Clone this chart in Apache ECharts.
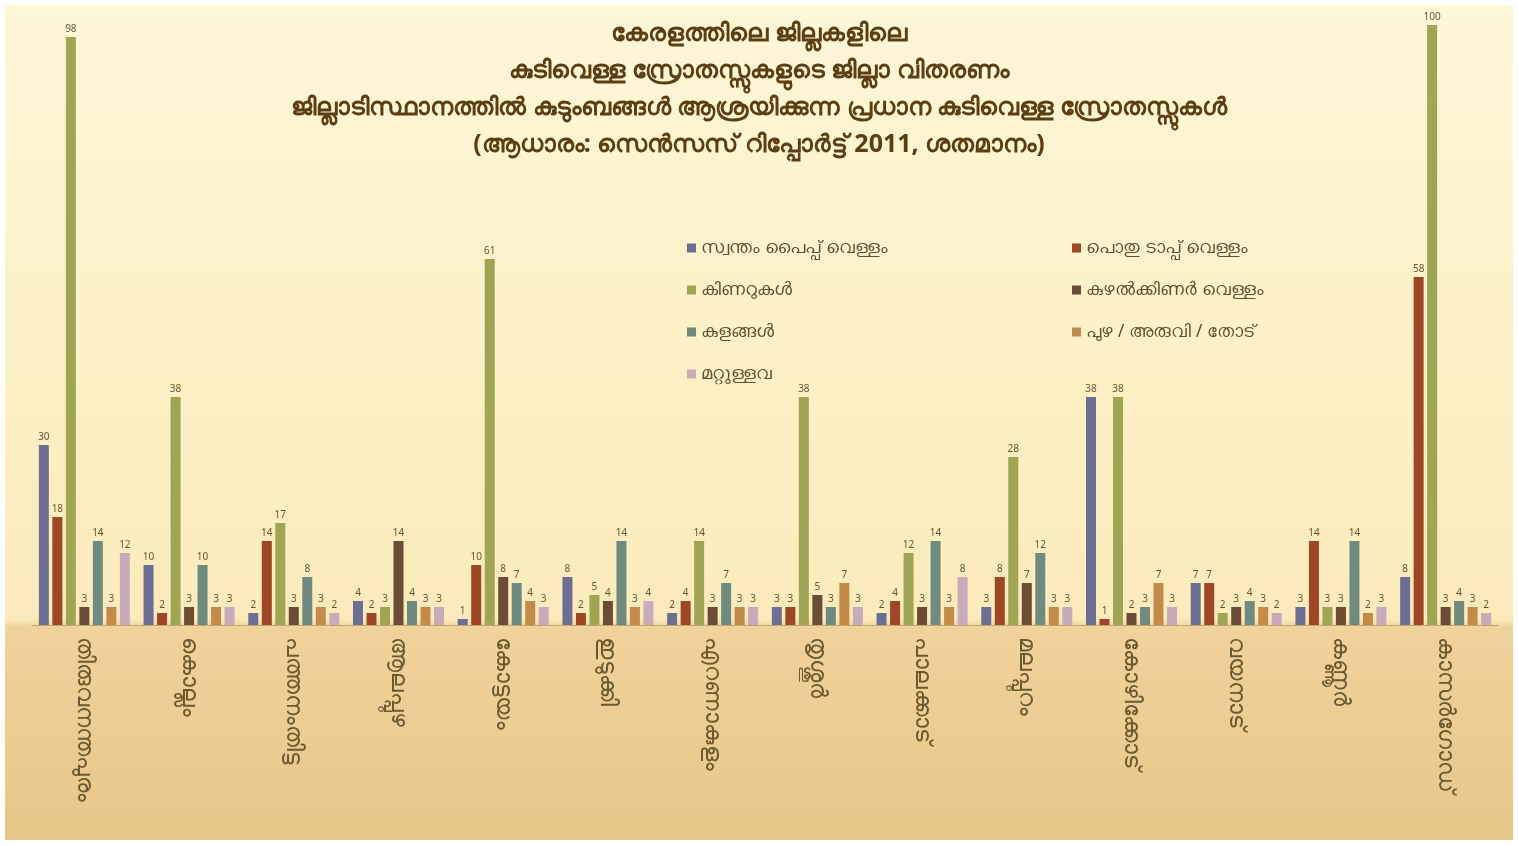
<!DOCTYPE html>
<html>
<head>
<meta charset="utf-8">
<script src="https://cdn.jsdelivr.net/npm/echarts@6/dist/echarts.min.js"></script>
<style>
html,body{margin:0;padding:0;background:#ffffff;}
#chart{width:1518px;height:846px;}
</style>
</head>
<body>
<div id="chart"></div>
<script>
// ---- data ----
const titleLines = [
  'കേരളത്തിലെ ജില്ലകളിലെ',
  'കുടിവെള്ള സ്രോതസ്സുകളുടെ ജില്ലാ വിതരണം',
  'ജില്ലാടിസ്ഥാനത്തിൽ കുടുംബങ്ങൾ ആശ്രയിക്കുന്ന പ്രധാന കുടിവെള്ള സ്രോതസ്സുകൾ',
  '(ആധാരം: സെൻസസ് റിപ്പോർട്ട് 2011, ശതമാനം)'
];
const categories = ['തിരുവനന്തപുരം','കൊല്ലം','പത്തനംതിട്ട','ആലപ്പുഴ','കോട്ടയം','ഇടുക്കി','എറണാകുളം','തൃശ്ശൂർ','പാലക്കാട്','മലപ്പുറം','കോഴിക്കോട്','വയനാട്','കണ്ണൂർ','കാസർഗോഡ്'];
const seriesNames = ['സ്വന്തം പൈപ്പ് വെള്ളം','പൊതു ടാപ്പ് വെള്ളം','കിണറുകൾ','കുഴൽക്കിണർ വെള്ളം','കുളങ്ങൾ','പുഴ / അരുവി / തോട്','മറ്റുള്ളവ'];
const s1 = [30, 10, 2, 4, 1, 8, 2, 3, 2, 3, 38, 7, 3, 8];
const s2 = [18, 2, 14, 2, 10, 2, 4, 3, 4, 8, 1, 7, 14, 58];
const s3 = [98, 38, 17, 3, 61, 5, 14, 38, 12, 28, 38, 2, 3, 100];
const s4 = [3, 3, 3, 14, 8, 4, 3, 5, 3, 7, 2, 3, 3, 3];
const s5 = [14, 10, 8, 4, 7, 14, 7, 3, 14, 12, 3, 4, 14, 4];
const s6 = [3, 3, 3, 3, 4, 3, 3, 7, 3, 3, 7, 3, 2, 3];
const s7 = [12, 3, 2, 3, 3, 4, 3, 3, 8, 3, 3, 2, 3, 2];
const seriesValues = [s1, s2, s3, s4, s5, s6, s7];
const colors = ['#6c6f92', '#9e4626', '#9fa552', '#6b4c34', '#6f8a7e', '#c48a4a', '#c9aab8'];

const FONT = "'Noto Sans', 'DejaVu Sans', sans-serif";
const chart = echarts.init(document.getElementById('chart'), null, {renderer: 'canvas'});

const series = seriesNames.map((name, i) => ({
  name: name,
  type: 'bar',
  data: seriesValues[i],
  barWidth: 10,
  barGap: '35%',
  itemStyle: {color: colors[i]},
  label: {show: true, position: 'top', distance: 3, fontSize: 10, color: '#6b5530', fontFamily: FONT}
}));

chart.setOption({
  animation: false,
  color: colors,
  graphic: [{
    type: 'rect', z: -10, silent: true,
    shape: {x: 5, y: 5, width: 1508, height: 835},
    style: {fill: new echarts.graphic.LinearGradient(0, 0, 0, 1, [
      {offset: 0, color: '#fef7d8'},
      {offset: 0.45, color: '#fcf0c5'},
      {offset: 0.735, color: '#fbebbc'},
      {offset: 0.745, color: '#f0d29b'},
      {offset: 1, color: '#e7c788'}
    ])}
  }],
  title: {
    text: titleLines.join('\n'),
    left: 'center', top: 10,
    textStyle: {fontFamily: FONT, fontSize: 25, fontWeight: 'bold', color: '#5b3e12', lineHeight: 37}
  },
  legend: [
    {data: [seriesNames[0], seriesNames[2], seriesNames[4], seriesNames[6]], orient: 'vertical',
     left: 682, top: 234, itemGap: 24, itemWidth: 9, itemHeight: 9, icon: 'rect',
     textStyle: {fontFamily: FONT, fontSize: 18, color: '#5e5230'}},
    {data: [seriesNames[1], seriesNames[3], seriesNames[5]], orient: 'vertical',
     left: 1067, top: 234, itemGap: 24, itemWidth: 9, itemHeight: 9, icon: 'rect',
     textStyle: {fontFamily: FONT, fontSize: 18, color: '#5e5230'}}
  ],
  grid: {left: 32, right: 20, top: 25, bottom: 221, containLabel: false},
  xAxis: {
    type: 'category', data: categories,
    axisLine: {show: true, lineStyle: {color: '#bfa370', width: 1}},
    axisTick: {show: false},
    axisLabel: {rotate: -90, margin: 12, fontSize: 23, color: '#6b5a2e', fontFamily: FONT, interval: 0, padding: [0, 0, 26, 0]}
  },
  yAxis: {type: 'value', min: 0, max: 100, show: false, splitLine: {show: false}},
  series: series
});
</script>
</body>
</html>
